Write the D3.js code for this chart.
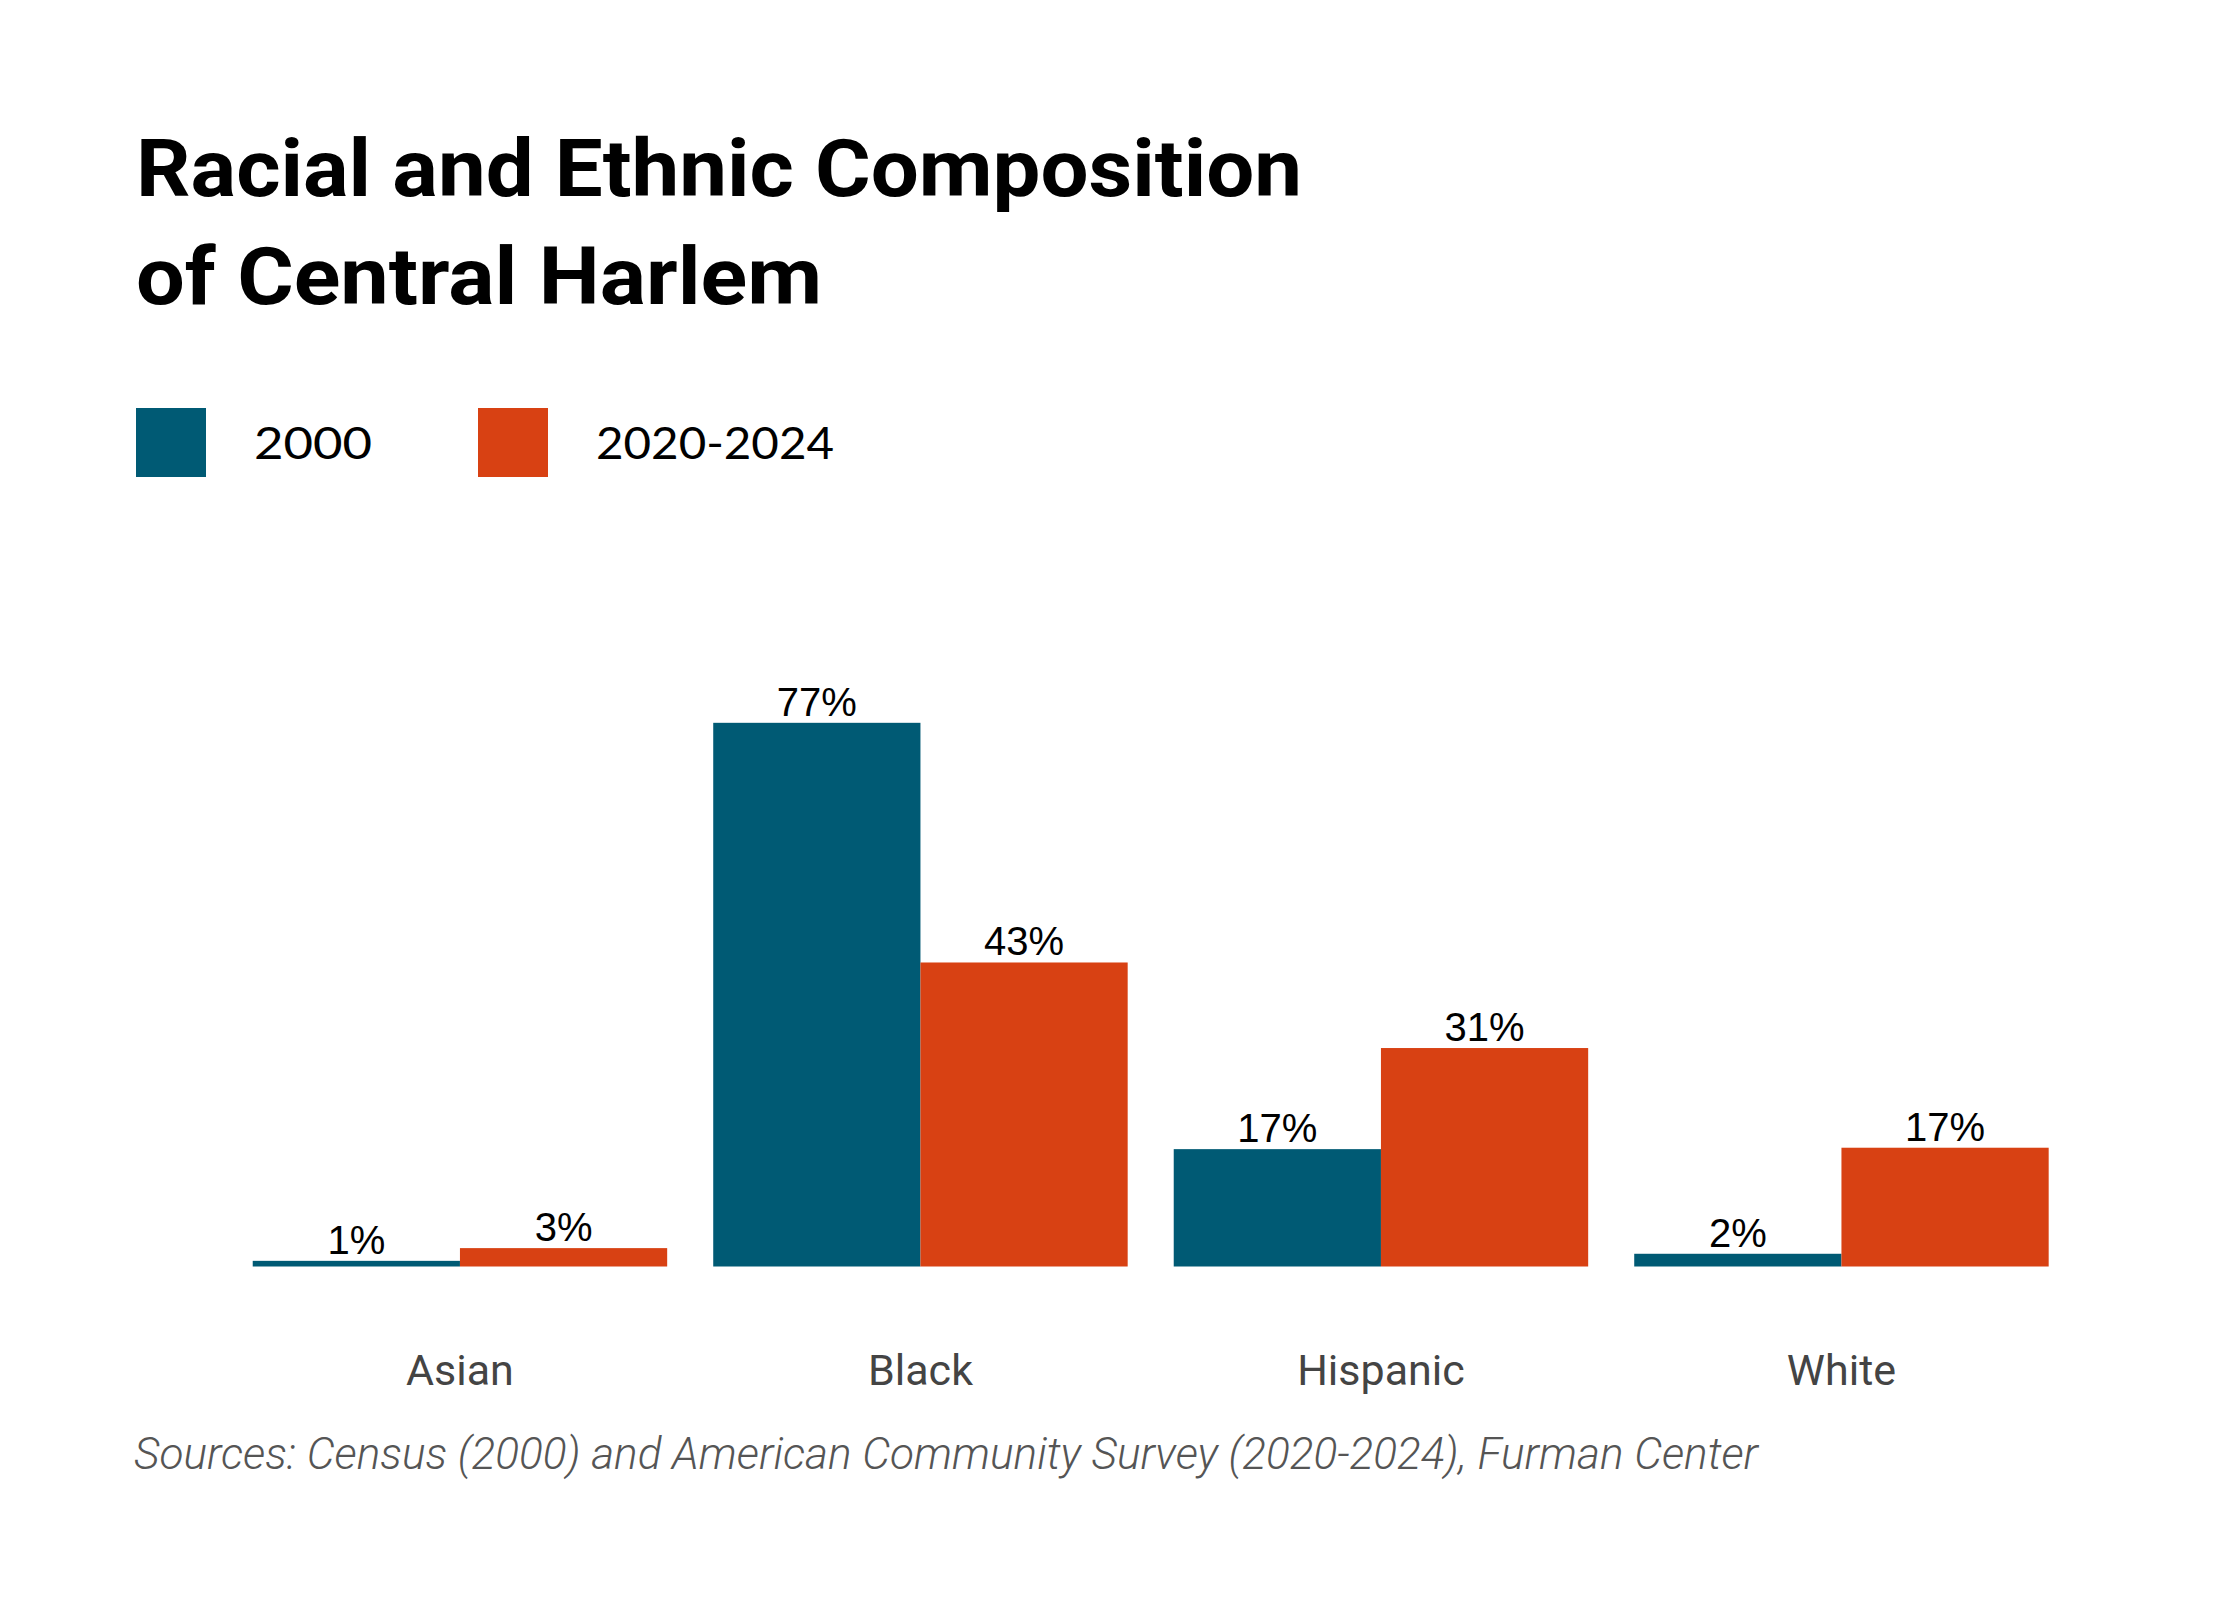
<!DOCTYPE html>
<html>
<head>
<meta charset="utf-8">
<script src="https://cdn.jsdelivr.net/npm/d3@7"></script>
<style>
  body { margin: 0; background: #fff; }
</style>
</head>
<body>
<div class="viz"></div>
<script>
const categories = ["Asian", "Black", "Hispanic", "White"];
const seriesNames = ["2000", "2020-2024"];
const values2000 = [0.8, 76.9, 16.6, 1.8];
const values2020 = [2.6, 43.0, 30.9, 16.8];
const titleLines = ["Racial and Ethnic Composition", "of Central Harlem"];
const sourceText = "Sources: Census (2000) and American Community Survey (2020-2024), Furman Center";

const width = 2240, height = 1600;
const colors = ["#005a74", "#d84113"];

const svg = d3.select(".viz").append("svg")
  .attr("width", width)
  .attr("height", height)
  .style("display", "block");

// title
svg.selectAll(".title")
  .data(titleLines)
  .enter().append("text")
  .attr("class", "title")
  .attr("x", 136)
  .attr("y", (d, i) => 196 + i * 108)
  .attr("textLength", (d, i) => i === 0 ? 1166 : 686)
  .attr("lengthAdjust", "spacingAndGlyphs")
  .style("font-family", "Roboto, sans-serif")
  .style("font-weight", 700)
  .style("font-size", "80px")
  .style("fill", "#000")
  .text(d => d);

// legend
const legend = svg.append("g").attr("transform", "translate(136, 408)");
const legendItem = legend.selectAll("g")
  .data(seriesNames)
  .enter().append("g")
  .attr("transform", (d, i) => `translate(${i * 342}, 0)`);

legendItem.append("rect")
  .attr("width", 70)
  .attr("height", 69)
  .attr("fill", (d, i) => colors[i]);

legendItem.append("text")
  .attr("x", 118)
  .attr("y", 51)
  .attr("textLength", (d, i) => i === 0 ? 118 : 238)
  .attr("lengthAdjust", "spacingAndGlyphs")
  .style("font-family", "Lato, sans-serif")
  .style("font-size", "44px")
  .style("fill", "#000")
  .text(d => d);

// scales
const x0 = d3.scaleBand()
  .domain(categories)
  .range([229.7, 2071.7])
  .paddingInner(0.1)
  .paddingOuter(0.05);

const x1 = d3.scaleBand()
  .domain(seriesNames)
  .range([0, x0.bandwidth()]);

const y = d3.scaleLinear()
  .domain([0, 100])
  .range([1266.5, 559.5]);

const rows = categories.map((c, i) => ({
  category: c,
  values: [
    { series: seriesNames[0], value: values2000[i] },
    { series: seriesNames[1], value: values2020[i] }
  ]
}));

const groups = svg.append("g").selectAll("g")
  .data(rows)
  .enter().append("g")
  .attr("transform", d => `translate(${x0(d.category)}, 0)`);

groups.selectAll("rect")
  .data(d => d.values)
  .enter().append("rect")
  .attr("x", d => x1(d.series))
  .attr("y", d => y(d.value))
  .attr("width", x1.bandwidth())
  .attr("height", d => y(0) - y(d.value))
  .attr("fill", (d, i) => colors[i]);

groups.selectAll(".val")
  .data(d => d.values)
  .enter().append("text")
  .attr("class", "val")
  .attr("x", d => x1(d.series) + x1.bandwidth() / 2)
  .attr("y", d => y(d.value) - 7)
  .attr("text-anchor", "middle")
  .style("font-family", "'Liberation Sans', Arial, sans-serif")
  .style("font-size", "40px")
  .style("fill", "#000")
  .text(d => d3.format(".0f")(d.value) + "%");

// x axis labels
const xAxis = d3.axisBottom(x0).tickSize(0).tickPadding(0);
const axisG = svg.append("g")
  .attr("transform", "translate(0, 1354)")
  .call(xAxis);
axisG.select(".domain").remove();
axisG.selectAll("text")
  .attr("dy", null)
  .attr("y", 31)
  .style("font-family", "Roboto, sans-serif")
  .style("font-size", "43px")
  .style("fill", "#444");

// source
svg.append("text")
  .attr("x", 134)
  .attr("y", 1469)
  .attr("textLength", 1624)
  .attr("lengthAdjust", "spacingAndGlyphs")
  .style("font-family", "Roboto, sans-serif")
  .style("font-weight", 300)
  .style("font-style", "italic")
  .style("font-size", "44px")
  .style("fill", "#555")
  .text(sourceText);
</script>
</body>
</html>
